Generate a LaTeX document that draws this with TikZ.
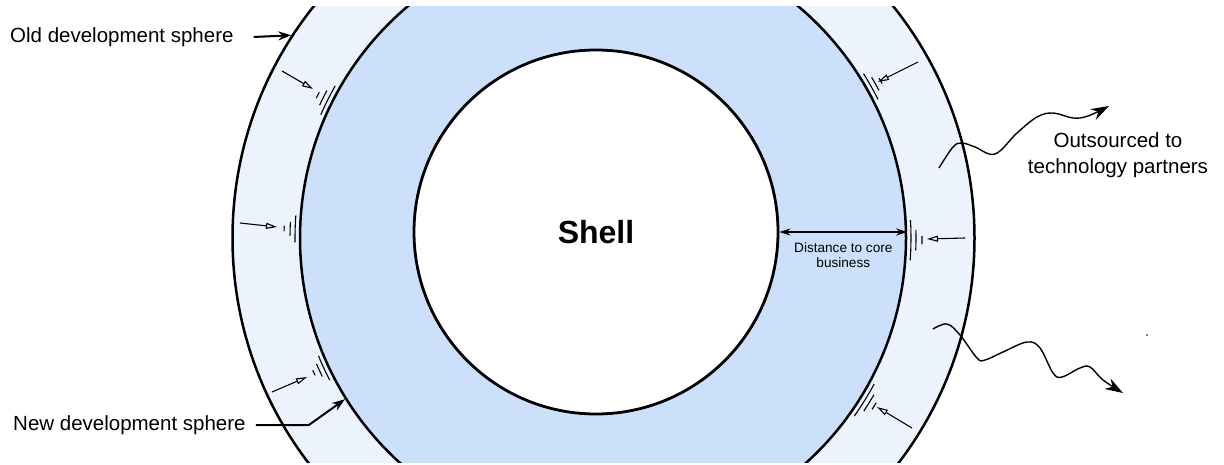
\documentclass[tikz,border=0pt]{standalone}
\usepackage{fontspec}
\setmainfont{Liberation Sans}
\usetikzlibrary{arrows.meta}

\definecolor{ringblue}{RGB}{236,243,253}
\definecolor{coreblue}{RGB}{204,224,252}

\begin{document}
\begin{tikzpicture}[
  x=1pt, y=-1pt,
  >=Stealth,
  sphere/.style={circle, draw, line width=2.5pt, inner sep=0pt},
  lbl/.style={font=\fontsize{20.5}{26}\selectfont, inner sep=0pt,
              align=center},
  arr/.style={->, line width=2pt, >={Stealth[length=13pt,width=9pt]}},
  push/.style={-{Triangle[open,length=11pt,width=6pt]}, line width=1.1pt},
  wave/.style={-{Stealth[length=18pt,width=12pt]}, line width=1.4pt},
  shake/.style={line width=1.1pt},
]

\useasboundingbox (0,0) rectangle (1224,465);

\begin{scope}
\clip (0,7) rectangle (1224,462);
\node[sphere, fill=ringblue, minimum size=742pt] (oldsphere) at (603.5,238) {};
\node[sphere, fill=coreblue, minimum size=606pt] (newsphere) at (603,238) {};
\node[sphere, fill=white, minimum size=364pt, line width=2.8pt,
      font=\bfseries\fontsize{32}{36}\selectfont] (shell) at (596,232) {Shell};
\end{scope}

\foreach \a/\s in {153.4/6, 178.3/5, 205/5, 29.5/5.5, -0.4/7.5, -31.8/7} {
  \draw[shake] ([shift={(\a-\s/2:308pt)}]newsphere.center)
    arc[start angle=\a-\s/2, delta angle=\s, radius=308pt];
  \draw[shake] ([shift={(\a-\s/4:313pt)}]newsphere.center)
    arc[start angle=\a-\s/4, delta angle=\s/2, radius=313pt];
  \draw[shake] ([shift={(\a-\s/10:319pt)}]newsphere.center)
    arc[start angle=\a-\s/10, delta angle=\s/5, radius=319pt];
}

\foreach \xa/\ya/\xb/\yb in {282/71/313/89, 240/223/277/227, 272/392/307/377,
                             918/62/878/82, 965/238/927/239, 912/428/877/407}
  \draw[push] (\xa,\ya) -- (\xb,\yb);

\draw[<->, line width=1.7pt, >={Stealth[length=11pt,width=7pt]}]
  (shell.east) -- (shell.east -| newsphere.east)
  node[midway, below=6pt, font=\fontsize{13.6}{15}\selectfont, align=center]
  (dist) {Distance to core\\business};

\node[lbl, anchor=west] (oldlbl) at (10,37) {Old development sphere};
\node[lbl, anchor=west] (newlbl) at (13,425) {New development sphere};
\node[lbl] (partners) at (1118,155) {Outsourced to\\technology partners};

\draw[arr] ([xshift=20pt]oldlbl.east) -- (oldsphere.147.4);
\draw[arr] ([xshift=10pt]newlbl.east) -- ++(53,0) -- (newsphere.212.6);

\draw[wave] plot[smooth, tension=0.6] coordinates {(939,168) (953,147) (962,143)
  (975,147) (995,154) (1017,133) (1037,117) (1053,113) (1073,118) (1088,116)
  (1109,106)};
\draw[wave] plot[smooth, tension=0.6] coordinates {(933,329) (947,324) (960,335)
  (977,358) (985,360) (1003,352) (1027,342) (1040,348) (1053,373) (1062,377)
  (1080,368) (1090,367) (1103,380) (1123,393)};

\fill (1147,335) circle (0.8pt);

\end{tikzpicture}
\end{document}
